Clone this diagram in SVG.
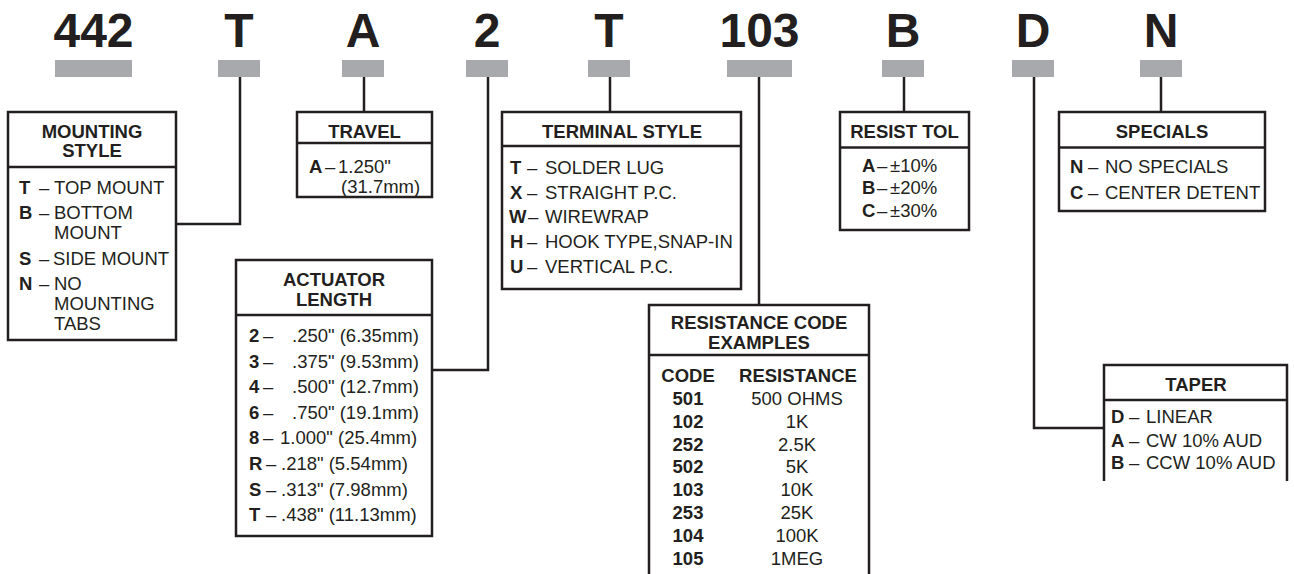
<svg xmlns="http://www.w3.org/2000/svg" width="1294" height="574" viewBox="0 0 1294 574">
<style>
text{font-family:"Liberation Sans",Arial,sans-serif;fill:#231f20;font-size:18.5px}
.big{font-size:48px;font-weight:bold;text-anchor:middle}
.h{font-weight:bold;text-anchor:middle}
.b{font-weight:bold}
.c{text-anchor:middle}
.bar{fill:#a7a9ac}
.box{fill:#fff;stroke:#231f20;stroke-width:2.5}
.ln{fill:none;stroke:#231f20;stroke-width:2.5}
</style>
<rect width="1294" height="574" fill="#fff"/>
<g id="codes">
<text class="big" x="93.5" y="46.5">442</text>
<text class="big" x="239" y="46.5">T</text>
<text class="big" x="363" y="46.5">A</text>
<text class="big" x="487" y="46.5">2</text>
<text class="big" x="609" y="46.5">T</text>
<text class="big" x="759.5" y="46.5">103</text>
<text class="big" x="903" y="46.5">B</text>
<text class="big" x="1033" y="46.5">D</text>
<text class="big" x="1161" y="46.5">N</text>
<rect class="bar" x="55" y="60" width="77" height="17"/>
<rect class="bar" x="218" y="60" width="42" height="17"/>
<rect class="bar" x="342" y="60" width="42" height="17"/>
<rect class="bar" x="466" y="60" width="42" height="17"/>
<rect class="bar" x="588" y="60" width="42" height="17"/>
<rect class="bar" x="727" y="60" width="65" height="17"/>
<rect class="bar" x="882" y="60" width="42" height="17"/>
<rect class="bar" x="1012" y="60" width="42" height="17"/>
<rect class="bar" x="1140" y="60" width="42" height="17"/>
</g>
<g id="connectors">
<polyline class="ln" points="240,77 240,224 176,224"/>
<polyline class="ln" points="364,77 364,112"/>
<polyline class="ln" points="488,77 488,370 432,370"/>
<polyline class="ln" points="610,77 610,112"/>
<polyline class="ln" points="759,77 759,305"/>
<polyline class="ln" points="904,77 904,112"/>
<polyline class="ln" points="1034,77 1034,428 1104,428"/>
<polyline class="ln" points="1161,77 1161,112"/>
</g>
<g id="mounting">
<rect class="box" x="8" y="112" width="168" height="228"/>
<line class="ln" x1="8" y1="167" x2="176" y2="167"/>
<text class="h" x="92" y="138">MOUNTING</text>
<text class="h" x="92" y="157">STYLE</text>
<text y="194"><tspan class="b" x="19">T</tspan><tspan x="39">–</tspan><tspan x="54">TOP MOUNT</tspan></text>
<text y="219"><tspan class="b" x="19">B</tspan><tspan x="39">–</tspan><tspan x="54">BOTTOM</tspan></text>
<text x="54" y="238.5">MOUNT</text>
<text y="265"><tspan class="b" x="19">S</tspan><tspan x="39">–</tspan><tspan x="53">SIDE MOUNT</tspan></text>
<text y="289.5"><tspan class="b" x="19">N</tspan><tspan x="39">–</tspan><tspan x="54">NO</tspan></text>
<text x="54" y="310">MOUNTING</text>
<text x="54" y="330">TABS</text>
</g>
<g id="travel">
<rect class="box" x="297" y="112" width="135" height="85"/>
<line class="ln" x1="297" y1="143" x2="432" y2="143"/>
<text class="h" x="364.5" y="138">TRAVEL</text>
<text y="172.5"><tspan class="b" x="309">A</tspan><tspan x="325">–</tspan><tspan x="338">1.250"</tspan></text>
<text x="341" y="192.5">(31.7mm)</text>
</g>
<g id="terminal">
<rect class="box" x="502" y="112" width="239" height="177"/>
<line class="ln" x1="502" y1="146" x2="741" y2="146"/>
<text class="h" x="622" y="138">TERMINAL STYLE</text>
<text y="174"><tspan class="b" x="510">T</tspan><tspan x="527">–</tspan><tspan x="545">SOLDER LUG</tspan></text>
<text y="198.7"><tspan class="b" x="510">X</tspan><tspan x="527">–</tspan><tspan x="545">STRAIGHT P.C.</tspan></text>
<text y="223.3"><tspan class="b" x="509">W</tspan><tspan x="528">–</tspan><tspan x="545">WIREWRAP</tspan></text>
<text y="248"><tspan class="b" x="510">H</tspan><tspan x="527">–</tspan><tspan x="545">HOOK TYPE,SNAP-IN</tspan></text>
<text y="272.7"><tspan class="b" x="510">U</tspan><tspan x="527">–</tspan><tspan x="545">VERTICAL P.C.</tspan></text>
</g>
<g id="actuator">
<rect class="box" x="236" y="260" width="196" height="276"/>
<line class="ln" x1="236" y1="315" x2="432" y2="315"/>
<text class="h" x="334" y="286">ACTUATOR</text>
<text class="h" x="334" y="306">LENGTH</text>
<text y="342"><tspan class="b" x="249">2</tspan><tspan x="263">–</tspan><tspan x="292">.250" (6.35mm)</tspan></text>
<text y="367.6"><tspan class="b" x="249">3</tspan><tspan x="263">–</tspan><tspan x="292">.375" (9.53mm)</tspan></text>
<text y="393.2"><tspan class="b" x="249">4</tspan><tspan x="263">–</tspan><tspan x="292">.500" (12.7mm)</tspan></text>
<text y="418.8"><tspan class="b" x="249">6</tspan><tspan x="263">–</tspan><tspan x="292">.750" (19.1mm)</tspan></text>
<text y="444.4"><tspan class="b" x="249">8</tspan><tspan x="263">–</tspan><tspan x="280">1.000" (25.4mm)</tspan></text>
<text y="470"><tspan class="b" x="249">R</tspan><tspan x="266">–</tspan><tspan x="281">.218" (5.54mm)</tspan></text>
<text y="495.6"><tspan class="b" x="249">S</tspan><tspan x="266">–</tspan><tspan x="281">.313" (7.98mm)</tspan></text>
<text y="521.2"><tspan class="b" x="249">T</tspan><tspan x="266">–</tspan><tspan x="281">.438" (11.13mm)</tspan></text>
</g>
<g id="resistance">
<path class="ln" d="M649,580 V305 H869 V580"/>
<line class="ln" x1="649" y1="355" x2="869" y2="355"/>
<text class="h" x="759" y="329">RESISTANCE CODE</text>
<text class="h" x="759" y="349">EXAMPLES</text>
<text class="h" x="688" y="381.7">CODE</text>
<text class="h" x="798" y="381.7">RESISTANCE</text>
<text class="h" x="688" y="405">501</text><text class="c" x="797" y="405">500 OHMS</text>
<text class="h" x="688" y="427.8">102</text><text class="c" x="797" y="427.8">1K</text>
<text class="h" x="688" y="450.6">252</text><text class="c" x="797" y="450.6">2.5K</text>
<text class="h" x="688" y="473.4">502</text><text class="c" x="797" y="473.4">5K</text>
<text class="h" x="688" y="496.2">103</text><text class="c" x="797" y="496.2">10K</text>
<text class="h" x="688" y="519">253</text><text class="c" x="797" y="519">25K</text>
<text class="h" x="688" y="541.8">104</text><text class="c" x="797" y="541.8">100K</text>
<text class="h" x="688" y="564.6">105</text><text class="c" x="797" y="564.6">1MEG</text>
</g>
<g id="resisttol">
<rect class="box" x="840" y="112" width="129" height="118"/>
<line class="ln" x1="840" y1="147.5" x2="969" y2="147.5"/>
<text class="h" x="904.5" y="138.3">RESIST TOL</text>
<text y="171.7"><tspan class="b" x="862">A</tspan><tspan x="877">–</tspan><tspan x="890">±10%</tspan></text>
<text y="194.2"><tspan class="b" x="862">B</tspan><tspan x="877">–</tspan><tspan x="890">±20%</tspan></text>
<text y="216.7"><tspan class="b" x="862">C</tspan><tspan x="877">–</tspan><tspan x="890">±30%</tspan></text>
</g>
<g id="specials">
<rect class="box" x="1059" y="112" width="206" height="99"/>
<line class="ln" x1="1059" y1="147.5" x2="1265" y2="147.5"/>
<text class="h" x="1162" y="138.3">SPECIALS</text>
<text y="173.3"><tspan class="b" x="1070">N</tspan><tspan x="1088">–</tspan><tspan x="1105">NO SPECIALS</tspan></text>
<text y="199"><tspan class="b" x="1070">C</tspan><tspan x="1088">–</tspan><tspan x="1105">CENTER DETENT</tspan></text>
</g>
<g id="taper">
<path class="ln" d="M1104,481 V365 H1287 V481"/>
<line class="ln" x1="1104" y1="400" x2="1287" y2="400"/>
<text class="h" x="1196" y="391">TAPER</text>
<text y="423.3"><tspan class="b" x="1111">D</tspan><tspan x="1129">–</tspan><tspan x="1146">LINEAR</tspan></text>
<text y="446.5"><tspan class="b" x="1111">A</tspan><tspan x="1129">–</tspan><tspan x="1146">CW 10% AUD</tspan></text>
<text y="468.5"><tspan class="b" x="1111">B</tspan><tspan x="1129">–</tspan><tspan x="1146">CCW 10% AUD</tspan></text>
</g>
</svg>
